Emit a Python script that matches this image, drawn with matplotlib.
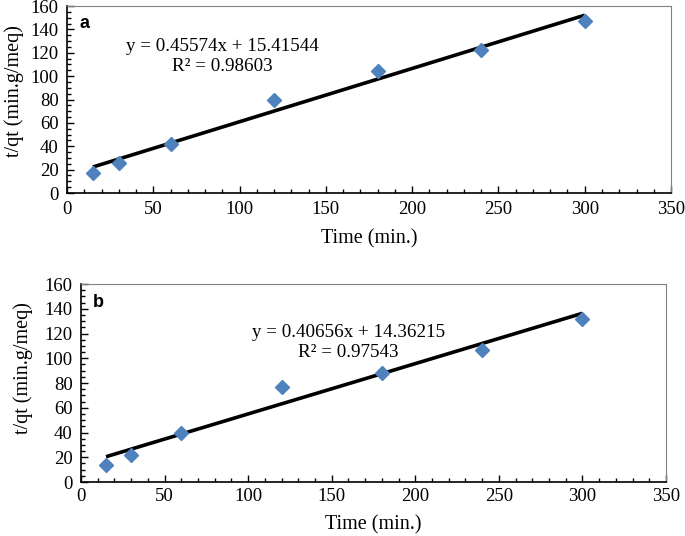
import numpy as np
import matplotlib
matplotlib.use("Agg")
import matplotlib.pyplot as plt
from matplotlib.ticker import MultipleLocator

plt.rcParams["font.family"] = ["Liberation Serif", "DejaVu Serif"]

# panel a
time_a = [15, 30, 60, 120, 180, 240, 300]
tq_a = [17, 26, 42, 80, 104, 122, 147]
slope_a, icpt_a, r2_a = 0.45574, 15.41544, 0.98603

# panel b
time_b = [15, 30, 60, 120, 180, 240, 300]
tq_b = [14, 22, 40, 77, 88, 107, 132]
slope_b, icpt_b, r2_b = 0.40656, 14.36215, 0.97543

fig = plt.figure(figsize=(6.85, 5.36), dpi=100)

# name, rect, data, fit, eq pos, r2 pos, ylabel coords, xlabel y
panels = [
    ("a", [0.0978, 0.6399, 0.8818, 0.3489], time_a, tq_a, slope_a, icpt_a, r2_a,
     (90, 125), (90, 108), (-0.072, 0.545), -0.195),
    ("b", [0.1182, 0.1007, 0.8540, 0.3694], time_b, tq_b, slope_b, icpt_b, r2_b,
     (160, 121), (160, 105), (-0.082, 0.576), -0.168),
]

for name, rect, xs, ys, m, c, r2, eq_pos, r2_pos, ylc, xly in panels:
    ax = fig.add_axes(rect)
    xs = np.array(xs)
    xfit = np.array([xs.min(), xs.max()])
    ax.plot(xfit, m * xfit + c, color="black", lw=2.6, solid_capstyle="butt", zorder=2)
    ax.plot(xs, ys, "D", color="#4F81BD", markersize=7, zorder=3)
    ax.set_xlim(0, 350)
    ax.set_ylim(0, 160)
    ax.xaxis.set_major_locator(MultipleLocator(50))
    ax.xaxis.set_minor_locator(MultipleLocator(10))
    ax.yaxis.set_major_locator(MultipleLocator(20))
    ax.yaxis.set_minor_locator(MultipleLocator(5))
    ax.tick_params(which="both", direction="in", top=False, right=False,
                   labelsize=13.5, color="black", width=1)
    ax.tick_params(which="major", length=5)
    ax.tick_params(which="minor", length=3)
    ax.tick_params(axis="y", pad=6)
    ax.tick_params(axis="x", pad=5.5 if name == "a" else 4.5)
    for s in ["top", "right"]:
        ax.spines[s].set_color("#808080")
    for s in ["left", "bottom"]:
        ax.spines[s].set_color("black")
        ax.spines[s].set_linewidth(1.2)
    ax.set_xlabel("Time (min.)", fontsize=14.5)
    ax.set_ylabel("t/qt (min.g/meq)", fontsize=14.5)
    ax.xaxis.set_label_coords(0.5, xly)
    ax.yaxis.set_label_coords(*ylc)
    ax.text(*eq_pos, f"y = {m}x + {c}", fontsize=13.7, ha="center", va="center")
    ax.text(*r2_pos, f"R² = {r2}", fontsize=13.7, ha="center", va="center")
    ax.text(0.02, 0.95, name, transform=ax.transAxes, fontsize=13,
            fontweight="bold", family="Liberation Sans", ha="left", va="top")

fig.savefig("out.png", dpi=100)
